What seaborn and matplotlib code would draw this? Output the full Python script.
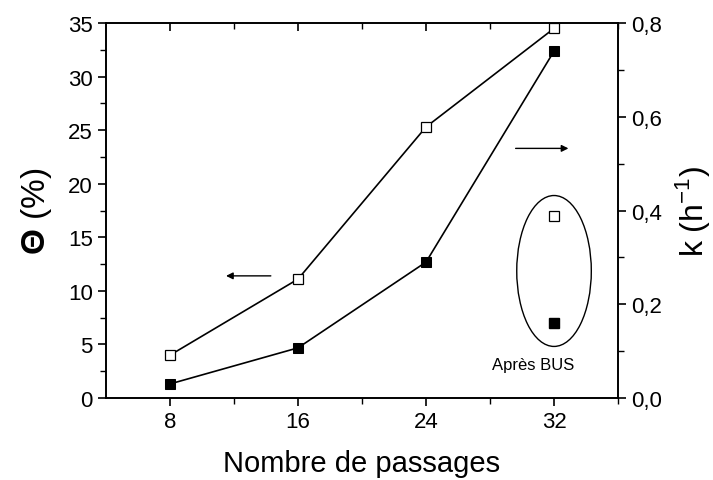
import matplotlib
matplotlib.use("Agg")
import matplotlib.pyplot as plt
from matplotlib.patches import Ellipse
from matplotlib.ticker import MultipleLocator, FixedLocator, FuncFormatter
import seaborn as sns
import pandas as pd

# Data
passages = [8, 16, 24, 32]
theta_pct = [4.0, 11.1, 25.3, 34.5]        # open squares, left axis
k_rate = [0.030, 0.107, 0.290, 0.740]      # filled squares, right axis
bus_x = 32
bus_theta = 17.0
bus_k = 0.160

sns.set_style("ticks")
plt.rcParams["font.family"] = ["Liberation Sans", "DejaVu Sans"]
plt.rcParams["mathtext.fontset"] = "custom"
plt.rcParams["mathtext.rm"] = "Liberation Sans"
plt.rcParams["mathtext.bf"] = "Liberation Sans:bold"
plt.rcParams["text.color"] = "black"
plt.rcParams["axes.labelcolor"] = "black"
plt.rcParams["xtick.color"] = "black"
plt.rcParams["ytick.color"] = "black"

fig = plt.figure(figsize=(7.13, 4.81), dpi=100)
ax = fig.add_axes([0.1487, 0.1705, 0.7181, 0.7795])
ax2 = ax.twinx()

df = pd.DataFrame({"n": passages, "theta": theta_pct, "k": k_rate})

sns.lineplot(data=df, x="n", y="theta", ax=ax, color="black", lw=1.2,
             marker="s", markersize=7.5, markerfacecolor="white",
             markeredgecolor="black", markeredgewidth=0.9)
sns.lineplot(data=df, x="n", y="k", ax=ax2, color="black", lw=1.2,
             marker="s", markersize=7.5, markerfacecolor="black",
             markeredgecolor="black")

# After-ultrasound points
ax.plot([bus_x], [bus_theta], ls="none", marker="s", markersize=7.5,
        markerfacecolor="white", markeredgecolor="black", markeredgewidth=0.9)
ax2.plot([bus_x], [bus_k], ls="none", marker="s", markersize=7.5,
         markerfacecolor="black", markeredgecolor="black")
ax2.add_patch(Ellipse((32, 0.271), 4.66, 0.322, fill=False,
                      edgecolor="black", lw=1.0))
ax.text(30.7, 3.1, "Après BUS", fontsize=12, ha="center", va="center")

# Arrows pointing to the matching axis
ax.annotate("", xy=(11.5, 11.4), xytext=(14.3, 11.4),
            arrowprops=dict(arrowstyle="-|>", color="black", lw=1.0,
                            mutation_scale=10, shrinkA=0, shrinkB=0))
ax.annotate("", xy=(32.9, 23.3), xytext=(29.6, 23.3),
            arrowprops=dict(arrowstyle="-|>", color="black", lw=1.0,
                            mutation_scale=10, shrinkA=0, shrinkB=0))

ax.set_xlim(4, 36)
ax.set_ylim(0, 35)
ax2.set_ylim(0, 0.8)

ax.xaxis.set_major_locator(FixedLocator(passages))
ax.xaxis.set_minor_locator(FixedLocator([12, 20, 28, 36]))
ax.yaxis.set_major_locator(MultipleLocator(5))
ax.yaxis.set_minor_locator(MultipleLocator(2.5))
ax2.yaxis.set_major_locator(MultipleLocator(0.2))
ax2.yaxis.set_minor_locator(MultipleLocator(0.1))
ax2.yaxis.set_major_formatter(FuncFormatter(lambda v, p: f"{v:.1f}".replace(".", ",")))

ax.tick_params(axis="both", which="major", direction="out", length=6, width=1.2,
               labelsize=16)
ax.tick_params(axis="both", which="minor", direction="out", length=4, width=1.0)
ax2.tick_params(axis="y", which="major", direction="out", length=6, width=1.2, labelsize=16)
ax2.tick_params(axis="y", which="minor", direction="out", length=4, width=1.0)
ax.xaxis.set_ticks_position("both")
for t in ax.xaxis.get_major_ticks() + ax.xaxis.get_minor_ticks():
    t.tick2line.set_marker(3)

for a in (ax, ax2):
    for s in a.spines.values():
        s.set_visible(True)
        s.set_linewidth(1.2)
        s.set_color("black")

ax.set_xlabel("Nombre de passages", fontsize=21, labelpad=12)
ax.set_ylabel(r"$\mathbf{\Theta}$ (%)", fontsize=24, labelpad=10)
ax2.set_ylabel(r"k (h$^{\mathregular{-1}}$)", fontsize=23, labelpad=8)

fig.savefig("out.png", dpi=100)
